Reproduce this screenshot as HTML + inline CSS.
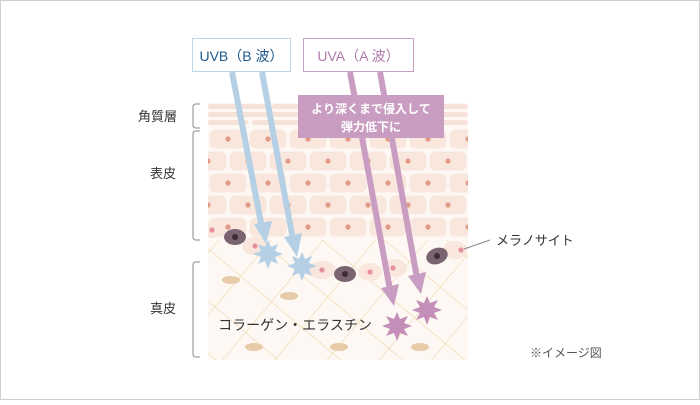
<!DOCTYPE html>
<html><head><meta charset="utf-8"><style>
html,body{margin:0;padding:0;background:#fff}
body{width:700px;height:400px;overflow:hidden}
svg text{font-family:"Liberation Sans","Noto Sans CJK JP",sans-serif}
</style></head><body>
<svg width="700" height="400" viewBox="0 0 700 400">
<defs>
<pattern id="cellA" x="208" y="128" width="40" height="22" patternUnits="userSpaceOnUse">
<rect x="1.5" y="1.5" width="37" height="19" rx="6" fill="#f9e7de"/>
<circle cx="20" cy="11" r="2.6" fill="#e29a86"/>
</pattern>
<pattern id="cellB" x="228" y="150" width="40" height="22" patternUnits="userSpaceOnUse">
<rect x="1.5" y="1.5" width="37" height="19" rx="6" fill="#f9e7de"/>
<circle cx="20" cy="11" r="2.6" fill="#e29a86"/>
</pattern>
<pattern id="grid" width="40" height="40" patternUnits="userSpaceOnUse" patternTransform="translate(210,250) rotate(40)">
<path d="M0 0H40M0 0V40" stroke="#f0d6a6" stroke-width="1.2" fill="none"/>
</pattern>
<clipPath id="skin"><rect x="208" y="103" width="260" height="257"/></clipPath>
</defs>
<rect x="0.5" y="0.5" width="699" height="399" fill="#fff" stroke="#cfcfcf"/>
<g clip-path="url(#skin)">
<rect x="208" y="103" width="260" height="257" fill="#fdf8f4"/>
<rect x="208" y="240" width="260" height="120" fill="url(#grid)"/>
<g fill="#f6e2d8">
<rect x="208" y="104" width="60" height="5" rx="2.5"/><rect x="272" y="104" width="90" height="5" rx="2.5"/><rect x="366" y="104" width="102" height="5" rx="2.5"/>
<rect x="208" y="112" width="100" height="5" rx="2.5"/><rect x="312" y="112" width="70" height="5" rx="2.5"/><rect x="386" y="112" width="82" height="5" rx="2.5"/>
<rect x="208" y="120" width="40" height="5" rx="2.5"/><rect x="252" y="120" width="110" height="5" rx="2.5"/><rect x="366" y="120" width="102" height="5" rx="2.5"/>
</g>
<rect x="208" y="128" width="260" height="22" fill="url(#cellA)"/>
<rect x="208" y="150" width="260" height="22" fill="url(#cellB)"/>
<rect x="208" y="172" width="260" height="22" fill="url(#cellA)"/>
<rect x="208" y="194" width="260" height="22" fill="url(#cellB)"/>
<rect x="208" y="216" width="260" height="22" fill="url(#cellA)"/>
<g fill="#f9e7de">
<ellipse cx="212" cy="230" rx="10" ry="8"/><ellipse cx="255" cy="246" rx="13" ry="9"/><ellipse cx="322" cy="270" rx="14" ry="9"/>
<ellipse cx="370" cy="272" rx="12" ry="9"/><ellipse cx="395" cy="268" rx="12" ry="9"/><ellipse cx="455" cy="250" rx="12" ry="9"/>
</g>
<g fill="#e88fa0"><circle cx="212" cy="230" r="2.6"/><circle cx="255" cy="246" r="2.6"/><circle cx="322" cy="270" r="2.6"/><circle cx="370" cy="272" r="2.6"/><circle cx="393" cy="268" r="2.6"/><circle cx="461" cy="250" r="2.6"/></g>
<g fill="#7a6470"><ellipse cx="235" cy="237" rx="11" ry="8"/><ellipse cx="345" cy="274" rx="11" ry="8"/><ellipse cx="437" cy="256" rx="11" ry="8" transform="rotate(-20 437 256)"/></g>
<g fill="#3d2c36"><circle cx="235" cy="237" r="3"/><circle cx="345" cy="274" r="3"/><circle cx="437" cy="256" r="3"/></g>
<g fill="#e8cba8"><ellipse cx="231" cy="280" rx="9" ry="4"/><ellipse cx="289" cy="296" rx="9" ry="4"/><ellipse cx="254" cy="347" rx="9" ry="4"/><ellipse cx="339" cy="347" rx="9" ry="4"/><ellipse cx="420" cy="347" rx="9" ry="4"/></g>
</g>
<rect x="192.5" y="38.5" width="98" height="33" fill="#fff" stroke="#bcd6e6"/>
<text x="241.5" y="61" text-anchor="middle" font-size="14" fill="#1d5a8e">UVB（B 波）</text>
<rect x="303.5" y="38.5" width="110" height="33" fill="#fff" stroke="#c9a0c3"/>
<text x="358.5" y="61" text-anchor="middle" font-size="14" fill="#b07aa9">UVA（A 波）</text>
<g stroke="#b5cfe4" stroke-width="6" fill="#b5cfe4">
<line x1="232" y1="72" x2="262" y2="228"/><polygon points="254,224 272,221 266,244" stroke="none"/>
<line x1="262" y1="72" x2="293" y2="240"/><polygon points="284,237 302,233 297,257" stroke="none"/>
</g>
<g stroke="#c99dc1" stroke-width="6" fill="#c99dc1">
<line x1="350" y1="72" x2="390" y2="290"/><polygon points="381,288 399,284 394,306" stroke="none"/>
<line x1="380" y1="72" x2="417" y2="278"/><polygon points="408,276 426,272 421,294" stroke="none"/>
</g>
<g fill="#b5cfe4">
<polygon points="268,240 271,247 278,244 275,251 283,254 275,257 278,264 271,261 268,269 265,261 258,264 261,257 253,254 261,251 258,244 265,247"/>
<polygon points="302,252 305,259 312,256 309,263 317,266 309,269 312,276 305,273 302,281 299,273 292,276 295,269 287,266 295,263 292,256 299,259"/>
</g>
<g fill="#c38fb9">
<polygon points="397,312 400,319 408,316 404,323 412,326 404,329 408,336 400,333 397,341 394,333 386,336 390,329 382,326 390,323 386,316 394,319"/>
<polygon points="427,296 430,303 438,300 434,307 442,310 434,313 438,320 430,317 427,325 424,317 416,320 420,313 412,310 420,307 416,300 424,303"/>
</g>
<rect x="298" y="95" width="146" height="43" fill="#c99dc1"/>
<text x="371" y="113" text-anchor="middle" font-size="12" font-weight="bold" fill="#fff">より深くまで侵入して</text>
<text x="371" y="131" text-anchor="middle" font-size="12" font-weight="bold" fill="#fff">弾力低下に</text>
<text x="295" y="330" text-anchor="middle" font-size="14" fill="#333">コラーゲン・エラスチン</text>
<g stroke="#888" stroke-width="1" fill="none">
<path d="M200 104H196Q193 104 193 107V125Q193 128 196 128H200"/>
<path d="M200 131H196Q193 131 193 134V237Q193 240 196 240H200"/>
<path d="M200 262H196Q193 262 193 265V354Q193 357 196 357H200"/>
<line x1="464" y1="249" x2="490" y2="240"/>
</g>
<g font-size="13" fill="#333">
<text x="138" y="121">角質層</text>
<text x="150" y="178">表皮</text>
<text x="150" y="313">真皮</text>
<text x="496" y="245">メラノサイト</text>
<text x="530" y="357" font-size="12" fill="#555">※イメージ図</text>
</g>
</svg>
</body></html>
